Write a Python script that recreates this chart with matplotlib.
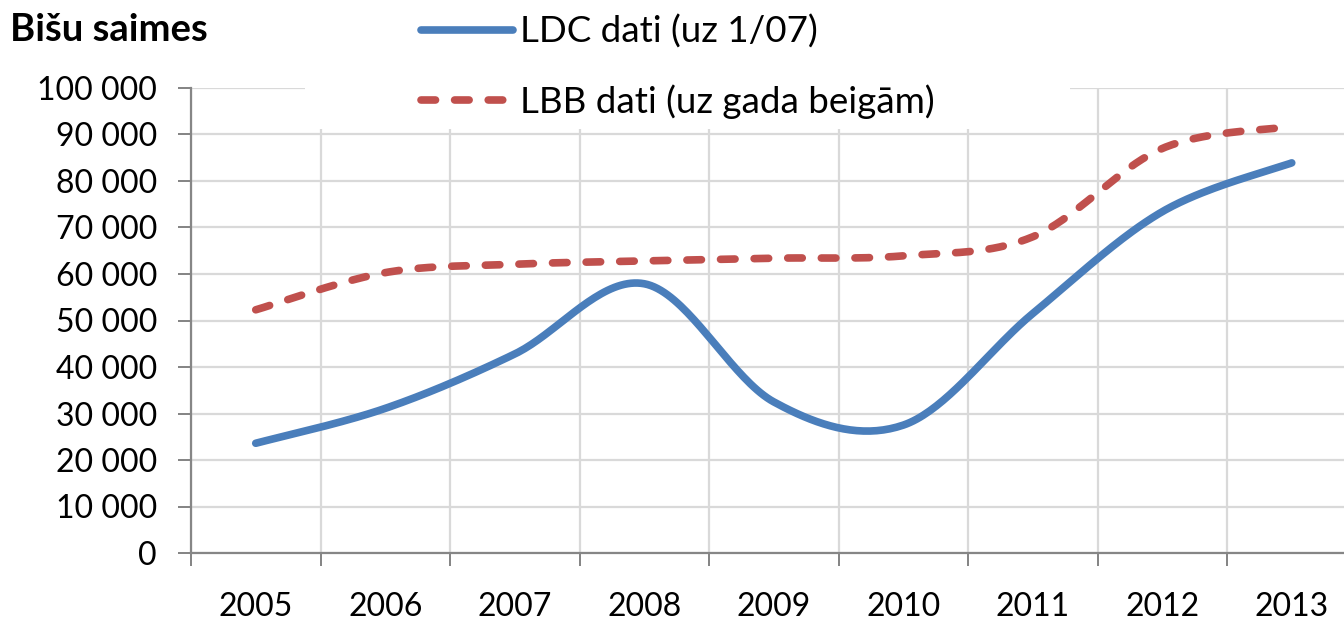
import numpy as np
import matplotlib
matplotlib.use("Agg")
import matplotlib.pyplot as plt
from matplotlib.patches import Rectangle
from matplotlib.ticker import FixedLocator, FuncFormatter

years = ["2005", "2006", "2007", "2008", "2009", "2010", "2011", "2012", "2013"]
ldc = [23600, 31100, 42800, 57900, 32500, 27500, 51500, 73400, 83900]
lbb = [52300, 60300, 62100, 62800, 63400, 63900, 68000, 87000, 91700]

ldc_label = "LDC dati (uz 1/07)"
lbb_label = "LBB dati (uz gada beigām)"
title = "Bišu saimes"

BLUE = "#4a7ebb"
RED = "#c0504d"
GRID = "#d9d9d9"
AXIS = "#868686"

plt.rcParams["font.family"] = ["Lato", "DejaVu Sans"]


def smooth(xs, ys, n=40):
    # Excel-like smoothed line: Catmull-Rom as cubic Bezier segments
    pts = np.column_stack([xs, ys]).astype(float)
    ext = np.vstack([pts[0], pts, pts[-1]])
    t = np.linspace(0, 1, n)[:, None]
    out = []
    for i in range(len(pts) - 1):
        p0, p1, p2, p3 = ext[i], ext[i + 1], ext[i + 2], ext[i + 3]
        c1 = p1 + (p2 - p0) / 6
        c2 = p2 - (p3 - p1) / 6
        seg = (1 - t) ** 3 * p1 + 3 * (1 - t) ** 2 * t * c1 + 3 * (1 - t) * t ** 2 * c2 + t ** 3 * p2
        out.append(seg if i == 0 else seg[1:])
    out = np.vstack(out)
    return out[:, 0], out[:, 1]


fig = plt.figure(figsize=(13.44, 6.2), dpi=100)
ax = fig.add_axes([191 / 1344, 67 / 620, 1165.5 / 1344, 465 / 620])

x = np.arange(len(years)) + 0.5
lw = 5.5

sx, sy = smooth(x, ldc)
l1, = ax.plot(sx, sy, color=BLUE, lw=lw, solid_capstyle="round", label=ldc_label, zorder=3)
sx, sy = smooth(x, lbb)
l2, = ax.plot(sx, sy, color=RED, lw=lw, linestyle=(0, (1.9, 2.5)),
              dash_capstyle="round", label=lbb_label, zorder=3)

ax.set_xlim(0, len(years))
ax.set_ylim(0, 100000)

ax.xaxis.set_major_locator(FixedLocator(np.arange(len(years) + 1)))
ax.xaxis.set_minor_locator(FixedLocator(x))
ax.set_xticklabels([], minor=False)
ax.set_xticklabels(years, minor=True)
ax.tick_params(axis="x", which="major", length=9.4, width=1.44, color=AXIS, direction="out")
ax.tick_params(axis="x", which="minor", length=0, pad=28, labelsize=23)

ax.set_yticks(np.arange(0, 100001, 10000))
ax.yaxis.set_major_formatter(FuncFormatter(lambda v, p: f"{int(v):,}".replace(",", " ")))
ax.tick_params(axis="y", length=9.4, width=1.44, color=AXIS, direction="out", pad=15, labelsize=23)

ax.grid(True, which="major", color=GRID, lw=1.6, zorder=0)
ax.set_axisbelow(True)
for s in ["top", "right"]:
    ax.spines[s].set_visible(False)
for s in ["left", "bottom"]:
    ax.spines[s].set_color(AXIS)
    ax.spines[s].set_linewidth(1.6)

# white legend area covering the top of the plot
fig.add_artist(Rectangle((305 / 1344, 1 - 129 / 620), (1070 - 305) / 1344, 129 / 620,
                         transform=fig.transFigure, facecolor="white", edgecolor="none", zorder=5))

leg = fig.legend(handles=[l1, l2], loc="upper left", bbox_to_anchor=(421 / 1344, 1 - 15 / 620),
                 frameon=False, fontsize=26.5, handlelength=2.5, handletextpad=0.2,
                 labelspacing=0.95, borderpad=0, borderaxespad=0)
leg.set_zorder(6)

fig.text(10 / 1344, 1 - 41 / 620, title, fontsize=27.5, fontweight="bold", va="baseline", ha="left")

fig.savefig("out.png", dpi=100)
